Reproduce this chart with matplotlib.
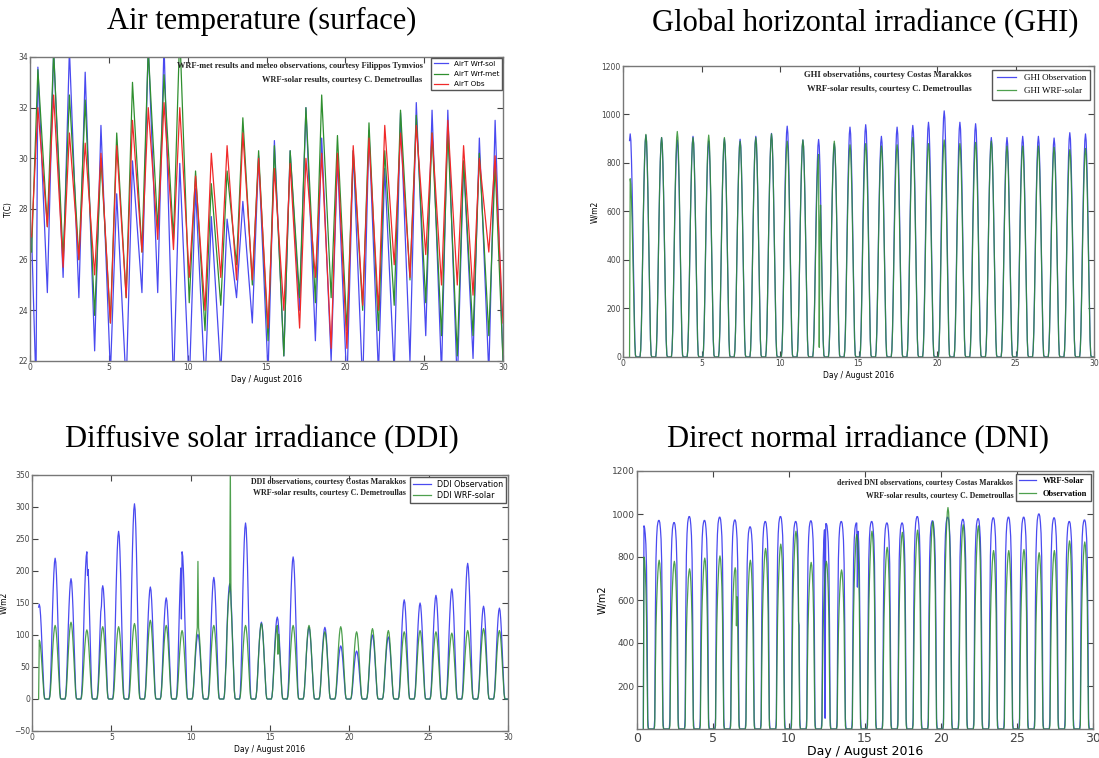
import numpy as np
import matplotlib
matplotlib.use("Agg")
import matplotlib.pyplot as plt

W, H = 1099, 758

DAYS = list(range(30))

# ---- air temperature: daily minima (~day+0.1) and maxima (~day+0.5), deg C
T_SOL_MIN = [27.0, 24.7, 25.3, 24.5, 22.4, 21.5, 21.0, 24.7, 24.7, 21.0,
             21.0, 21.0, 21.5, 24.5, 23.5, 21.5, 22.2, 24.0, 22.8, 22.0,
             21.0, 21.0, 21.5, 21.5, 22.0, 23.0, 21.5, 21.0, 22.1, 21.5]
T_SOL_MAX = [33.6, 34.3, 34.3, 33.4, 31.3, 28.6, 29.9, 34.5, 34.5, 29.8,
             28.8, 27.7, 27.6, 28.3, 30.1, 30.7, 30.3, 32.0, 30.8, 30.0,
             30.3, 31.1, 29.6, 31.8, 32.2, 31.9, 31.9, 29.9, 30.8, 31.5]
T_MET_MIN = [26.3, 27.3, 26.0, 26.0, 23.8, 23.5, 24.5, 26.3, 27.2, 26.8,
             24.3, 23.2, 24.2, 25.8, 25.0, 22.8, 22.2, 24.5, 24.3, 24.5,
             23.2, 24.0, 23.2, 24.2, 25.2, 24.3, 23.0, 22.2, 23.0, 23.0]
T_MET_MAX = [33.5, 34.2, 32.5, 32.3, 30.0, 31.0, 33.0, 34.3, 33.3, 35.0,
             29.5, 29.0, 29.5, 31.6, 30.3, 30.5, 30.3, 32.0, 32.5, 30.9,
             30.3, 31.4, 30.3, 31.9, 31.7, 31.0, 31.1, 29.9, 30.2, 29.8]
T_OBS_MIN = [26.9, 27.3, 25.7, 26.0, 25.4, 23.5, 24.5, 26.3, 26.8, 26.4,
             25.3, 24.0, 25.3, 25.2, 25.2, 23.3, 24.0, 23.3, 25.3, 22.5,
             22.5, 24.2, 24.0, 25.8, 25.3, 26.2, 25.0, 25.0, 24.6, 26.3]
T_OBS_MAX = [32.0, 32.5, 31.0, 30.6, 30.2, 30.5, 31.5, 32.0, 32.2, 32.0,
             29.3, 30.2, 30.5, 31.0, 30.0, 29.6, 29.8, 30.0, 30.2, 30.2,
             30.5, 30.8, 31.3, 31.0, 31.3, 31.0, 31.5, 30.5, 30.0, 30.1]
T_END = [22.0, 22.0, 23.5]          # sol, met, obs at day 30
T_SOL_EXTRA = [(0.38, 21.0)]        # drop at the start of the WRF-sol run

# ---- hourly diurnal shapes (fraction of daily peak)
BELL = [0, 0, 0, 0.03, 0.12, 0.27, 0.45, 0.62, 0.77, 0.89, 0.97, 1.0,
        0.97, 0.88, 0.75, 0.59, 0.41, 0.23, 0.08, 0.01, 0, 0, 0, 0]
DNI_WRF_SHAPE = [0, 0, 0, 0, 0.05, 0.55, 0.82, 0.92, 0.97, 0.99, 1.0, 1.0,
                 0.99, 0.96, 0.91, 0.8, 0.5, 0.05, 0, 0, 0, 0, 0, 0]
DNI_OBS_SHAPE = [0, 0, 0, 0, 0.02, 0.35, 0.6, 0.75, 0.85, 0.93, 0.98, 1.0,
                 0.98, 0.92, 0.82, 0.65, 0.3, 0.02, 0, 0, 0, 0, 0, 0]

# ---- daily peaks, W/m2
GHI_OBS = [920, 915, 905, 895, 910, 890, 900, 898, 910, 922,
           952, 895, 897, 880, 948, 958, 910, 948, 955, 968,
           1015, 968, 962, 905, 905, 910, 910, 903, 925, 920]
GHI_WRF = [735, 918, 905, 930, 905, 915, 905, 890, 905, 920,
           890, 895, 835, 890, 875, 880, 870, 875, 905, 880,
           895, 880, 885, 890, 870, 870, 870, 865, 855, 860]
GHI_WRF_FIX = [((0, 10), 0), ((12, 12), 40), ((12, 13), 530)]

DDI_OBS = [148, 220, 188, 230, 177, 262, 305, 175, 158, 230,
           101, 190, 180, 275, 120, 128, 222, 112, 112, 83,
           75, 100, 97, 155, 150, 162, 172, 212, 145, 142]
DDI_WRF = [92, 115, 120, 108, 113, 113, 118, 123, 115, 107,
           115, 115, 170, 115, 118, 115, 115, 115, 105, 113,
           105, 110, 107, 105, 107, 105, 103, 107, 110, 107]
DDI_OBS_FIX = [((3, 12), 193), ((4, 9), 145), ((9, 10), 125)]
DDI_WRF_FIX = [((0, 10), 0), ((10, 11), 215), ((12, 6), 60), ((12, 12), 360), ((15, 12), 70)]

DNI_WRF = [945, 970, 960, 988, 970, 985, 972, 940, 965, 988,
           965, 968, 955, 965, 958, 965, 958, 958, 988, 968,
           985, 975, 978, 982, 985, 985, 1000, 982, 965, 972]
DNI_OBS = [800, 785, 780, 745, 795, 805, 750, 785, 840, 860,
           920, 775, 780, 740, 905, 920, 845, 915, 925, 965,
           1030, 950, 945, 830, 830, 835, 820, 830, 875, 870]
DNI_WRF_FIX = [((0, 10), 0), ((10, 15), 500), ((12, 9), 50), ((14, 12), 660)]
DNI_OBS_FIX = [((0, 10), 0), ((6, 13), 480), ((3, 9), 700)]

BLUE = "#4a4af0"
GREEN = "#2f8f2f"
RED = "#f02a2a"
START_HOUR = 10


def diurnal(peaks, shape, fixes=()):
    vals = np.outer(peaks, shape).ravel()
    for (d, h), v in fixes:
        vals[d * 24 + h] = v
    t = np.arange(len(vals)) / 24.0
    return t[START_HOUR:], vals[START_HOUR:]


def zigzag(mins, maxs, end, extra=()):
    t, v = [], []
    for d in DAYS:
        t += [d + 0.1, d + 0.5]
        v += [mins[d], maxs[d]]
    t.append(30.0)
    v.append(end)
    for et, ev in extra:
        t.append(et)
        v.append(ev)
    order = np.argsort(t)
    return np.array(t)[order], np.array(v)[order]


def px_axes(fig, left, top, right, bottom):
    return fig.add_axes([left / W, 1 - bottom / H, (right - left) / W, (bottom - top) / H])


def style(ax, tick_size=5.5):
    ax.tick_params(direction="in", top=True, right=True, length=4, width=0.8,
                   labelsize=tick_size, colors="#444444", pad=1.5)
    for s in ax.spines.values():
        s.set_color("#777777")
        s.set_linewidth(1.0)


def notes(ax, x, y1, y2, line1, line2, size=6.2):
    for y, s in ((y1, line1), (y2, line2)):
        ax.text(x, y, s, transform=ax.transAxes, ha="right", va="center",
                fontsize=size, fontweight="bold", family="Liberation Serif", color="#222222")


fig = plt.figure(figsize=(W / 100, H / 100), dpi=100)
title_kw = dict(fontsize=22, family="Liberation Serif", ha="center", va="center")
fig.text(262 / W, 1 - 21 / H, "Air temperature (surface)", **title_kw)
fig.text(865 / W, 1 - 24 / H, "Global horizontal irradiance (GHI)", **title_kw)
fig.text(262 / W, 1 - 440 / H, "Diffusive solar irradiance (DDI)", **title_kw)
fig.text(858 / W, 1 - 440 / H, "Direct normal irradiance (DNI)", **title_kw)

# ---- Air temperature
ax = px_axes(fig, 30, 57, 503, 361)
for mins, maxs, end, extra, col, lab in [
        (T_SOL_MIN, T_SOL_MAX, T_END[0], T_SOL_EXTRA, BLUE, "AirT Wrf-sol"),
        (T_MET_MIN, T_MET_MAX, T_END[1], (), GREEN, "AirT Wrf-met"),
        (T_OBS_MIN, T_OBS_MAX, T_END[2], (), RED, "AirT Obs")]:
    t, v = zigzag(mins, maxs, end, extra)
    ax.plot(t, v, color=col, lw=0.9, label=lab)
ax.set_xlim(0, 30)
ax.set_ylim(22, 34)
ax.set_yticks(range(22, 35, 2))
ax.set_xticks(range(0, 31, 5))
ax.set_xlabel("Day / August 2016", fontsize=5.5, labelpad=2)
ax.set_ylabel("T(C)", fontsize=5.5, labelpad=4)
style(ax)
ax.legend(loc="upper right", fontsize=5.2, fancybox=False, edgecolor="#555555",
          borderaxespad=0.1, handlelength=2.0, labelspacing=0.6, framealpha=1)
notes(ax, 0.83, 0.97, 0.924, "WRF-met results and meteo observations, courtesy Filippos Tymvios",
      "WRF-solar results, courtesy C. Demetroullas", size=6.0)

# ---- GHI
ax = px_axes(fig, 623, 66, 1094, 357)
t, v = diurnal(GHI_OBS, BELL)
ax.plot(t, v, color=BLUE, lw=0.9, label="GHI Observation")
t, v = diurnal(GHI_WRF, BELL, GHI_WRF_FIX)
ax.plot(t, v, color=GREEN, lw=0.9, alpha=0.85, label="GHI WRF-solar")
ax.set_xlim(0, 30)
ax.set_ylim(0, 1200)
ax.set_yticks(range(0, 1201, 200))
ax.set_xticks(range(0, 31, 5))
ax.set_xlabel("Day / August 2016", fontsize=5.5, labelpad=2)
ax.set_ylabel("W/m2", fontsize=5.5, labelpad=2)
style(ax)
ax.legend(loc="upper right", prop={"family": "Liberation Serif", "size": 6.5}, fancybox=False,
          edgecolor="#555555", borderaxespad=0.4, handlelength=2.2, borderpad=0.5, framealpha=1)
notes(ax, 0.741, 0.969, 0.921, "GHI observations, courtesy Costas Marakkos",
      "WRF-solar results, courtesy C. Demetroullas")

# ---- DDI
ax = px_axes(fig, 32, 475, 508, 731)
t, v = diurnal(DDI_OBS, BELL, DDI_OBS_FIX)
ax.plot(t, v, color=BLUE, lw=0.9, label="DDI Observation")
t, v = diurnal(DDI_WRF, BELL, DDI_WRF_FIX)
ax.plot(t, v, color=GREEN, lw=0.9, alpha=0.85, label="DDI WRF-solar")
ax.set_xlim(0, 30)
ax.set_ylim(-50, 350)
ax.set_yticks(range(-50, 351, 50))
ax.set_xticks(range(0, 31, 5))
ax.set_xlabel("Day / August 2016", fontsize=5.5, labelpad=2)
ax.set_ylabel("W/m2", fontsize=5.5, labelpad=4)
style(ax)
ax.legend(loc="upper right", fontsize=5.8, fancybox=False, edgecolor="#555555",
          borderaxespad=0.2, handlelength=2.2, labelspacing=0.3, framealpha=1)
notes(ax, 0.786, 0.973, 0.93, "DDI observations, courtesy Costas Marakkos",
      "WRF-solar results, courtesy C. Demetroullas", size=5.8)

# ---- DNI
ax = px_axes(fig, 637, 471, 1093, 729)
t, v = diurnal(DNI_WRF, DNI_WRF_SHAPE, DNI_WRF_FIX)
ax.plot(t, v, color=BLUE, lw=0.9, label="WRF-Solar")
t, v = diurnal(DNI_OBS, DNI_OBS_SHAPE, DNI_OBS_FIX)
ax.plot(t, v, color=GREEN, lw=0.9, alpha=0.85, label="Observation")
ax.set_xlim(0, 30)
ax.set_ylim(0, 1200)
ax.set_yticks(range(200, 1201, 200))
ax.set_xticks(range(0, 31, 5))
ax.set_xlabel("Day / August 2016", fontsize=9, labelpad=0)
ax.set_ylabel("W/m2", fontsize=7, labelpad=3)
style(ax, tick_size=6.5)
ax.tick_params(axis="x", labelsize=9, pad=2)
ax.legend(loc="upper right", prop={"family": "Liberation Serif", "size": 6, "weight": "bold"},
          fancybox=False, edgecolor="#555555", borderaxespad=0.3, handlelength=2.0,
          labelspacing=0.6, framealpha=1)
notes(ax, 0.825, 0.953, 0.903, "derived DNI observations, courtesy Costas Marakkos",
      "WRF-solar results, courtesy C. Demetroullas", size=5.6)

fig.savefig("out.png", dpi=100)
